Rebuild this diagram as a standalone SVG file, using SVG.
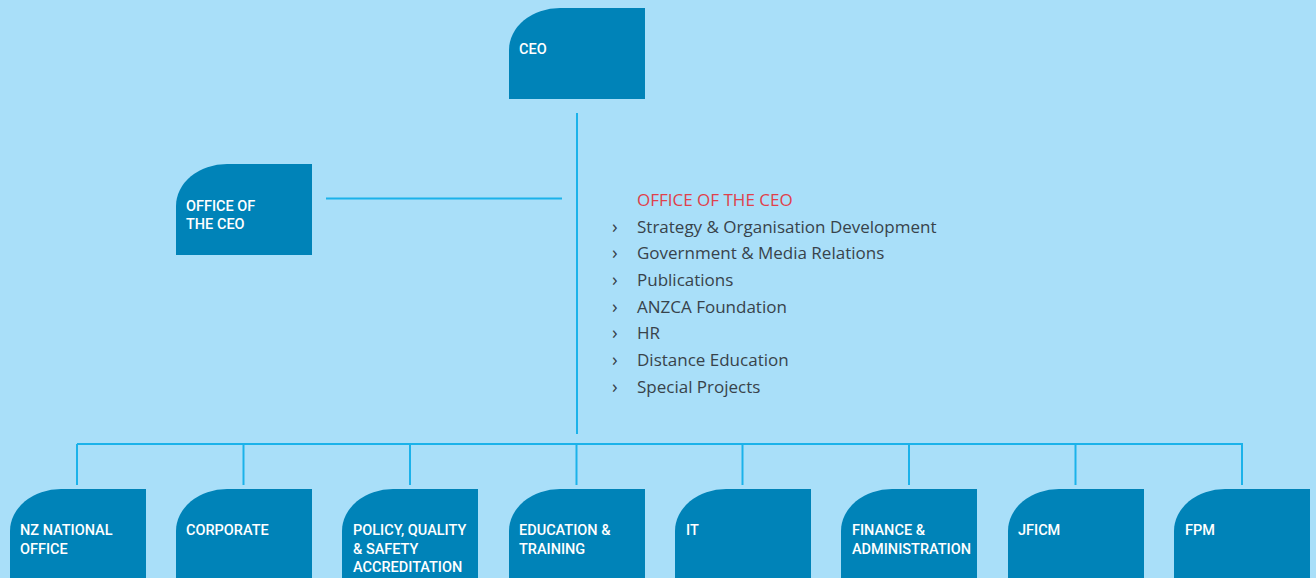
<svg xmlns="http://www.w3.org/2000/svg" width="1316" height="578" viewBox="0 0 1316 578">
<defs>
<style>
.bg{fill:#a9dff9}
.box{fill:#0083b8}
.bt{font-family:Roboto,"Open Sans","Noto Sans",sans-serif;font-size:14.5px;font-weight:500;fill:#ffffff}
.ln{stroke:#1bb2ea;stroke-width:2;fill:none}
.hd{font-family:"Open Sans","Noto Sans",sans-serif;font-size:17px;fill:#e0414b}
.it{font-family:"Open Sans","Noto Sans",sans-serif;font-size:17px;fill:#38434b}
.ch{font-family:"Open Sans","Noto Sans",sans-serif;font-size:19px;fill:#38434b}
</style>
</defs>
<rect class="bg" x="0" y="0" width="1316" height="578"/>
<g id="connectors">
<line class="ln" x1="577" y1="113" x2="577" y2="434"/>
<line class="ln" x1="326" y1="198.5" x2="562" y2="198.5"/>
<line class="ln" x1="77" y1="444" x2="1243" y2="444"/>
<line class="ln" x1="77" y1="444" x2="77" y2="485"/>
<line class="ln" x1="243.5" y1="444" x2="243.5" y2="485"/>
<line class="ln" x1="410" y1="444" x2="410" y2="485"/>
<line class="ln" x1="576.5" y1="444" x2="576.5" y2="485"/>
<line class="ln" x1="742.5" y1="444" x2="742.5" y2="485"/>
<line class="ln" x1="909" y1="444" x2="909" y2="485"/>
<line class="ln" x1="1075.5" y1="444" x2="1075.5" y2="485"/>
<line class="ln" x1="1242" y1="444" x2="1242" y2="485"/>
</g>
<g id="ceo">
<path class="box" d="M509,99 V50 A51,42 0 0 1 560,8 H645 V99 Z"/>
<text class="bt" x="519" y="54">CEO</text>
</g>
<g id="office-of-the-ceo">
<path class="box" d="M176,255 V206 A51,42 0 0 1 227,164 H312 V255 Z"/>
<text class="bt" x="186" y="211">OFFICE OF</text>
<text class="bt" x="186" y="229">THE CEO</text>
</g>
<g id="office-list">
<text class="hd" x="637" y="206">OFFICE OF THE CEO</text>
<g class="ch">
<text x="612" y="233">›</text>
<text x="612" y="259">›</text>
<text x="612" y="286">›</text>
<text x="612" y="313">›</text>
<text x="612" y="339">›</text>
<text x="612" y="366">›</text>
<text x="612" y="393">›</text>
</g>
<g class="it">
<text x="637" y="233">Strategy &amp; Organisation Development</text>
<text x="637" y="259">Government &amp; Media Relations</text>
<text x="637" y="286">Publications</text>
<text x="637" y="313">ANZCA Foundation</text>
<text x="637" y="339">HR</text>
<text x="637" y="366">Distance Education</text>
<text x="637" y="393">Special Projects</text>
</g>
</g>
<g id="nz-national-office">
<path class="box" d="M10,578 V531 A51,42 0 0 1 61,489 H146 V578 Z"/>
<text class="bt" x="20" y="535">NZ NATIONAL</text>
<text class="bt" x="20" y="554">OFFICE</text>
</g>
<g id="corporate">
<path class="box" d="M176,578 V531 A51,42 0 0 1 227,489 H312 V578 Z"/>
<text class="bt" x="186" y="535">CORPORATE</text>
</g>
<g id="policy">
<path class="box" d="M342,578 V531 A51,42 0 0 1 393,489 H478 V578 Z"/>
<text class="bt" x="353" y="535">POLICY, QUALITY</text>
<text class="bt" x="353" y="554">&amp; SAFETY</text>
<text class="bt" x="353" y="572">ACCREDITATION</text>
</g>
<g id="education">
<path class="box" d="M509,578 V531 A51,42 0 0 1 560,489 H645 V578 Z"/>
<text class="bt" x="519" y="535">EDUCATION &amp;</text>
<text class="bt" x="519" y="554">TRAINING</text>
</g>
<g id="it">
<path class="box" d="M675,578 V531 A51,42 0 0 1 726,489 H811 V578 Z"/>
<text class="bt" x="686" y="535">IT</text>
</g>
<g id="finance">
<path class="box" d="M841,578 V531 A51,42 0 0 1 892,489 H977 V578 Z"/>
<text class="bt" x="852" y="535">FINANCE &amp;</text>
<text class="bt" x="852" y="554">ADMINISTRATION</text>
</g>
<g id="jficm">
<path class="box" d="M1008,578 V531 A51,42 0 0 1 1059,489 H1144 V578 Z"/>
<text class="bt" x="1018" y="535">JFICM</text>
</g>
<g id="fpm">
<path class="box" d="M1174,578 V531 A51,42 0 0 1 1225,489 H1310 V578 Z"/>
<text class="bt" x="1185" y="535">FPM</text>
</g>
</svg>
